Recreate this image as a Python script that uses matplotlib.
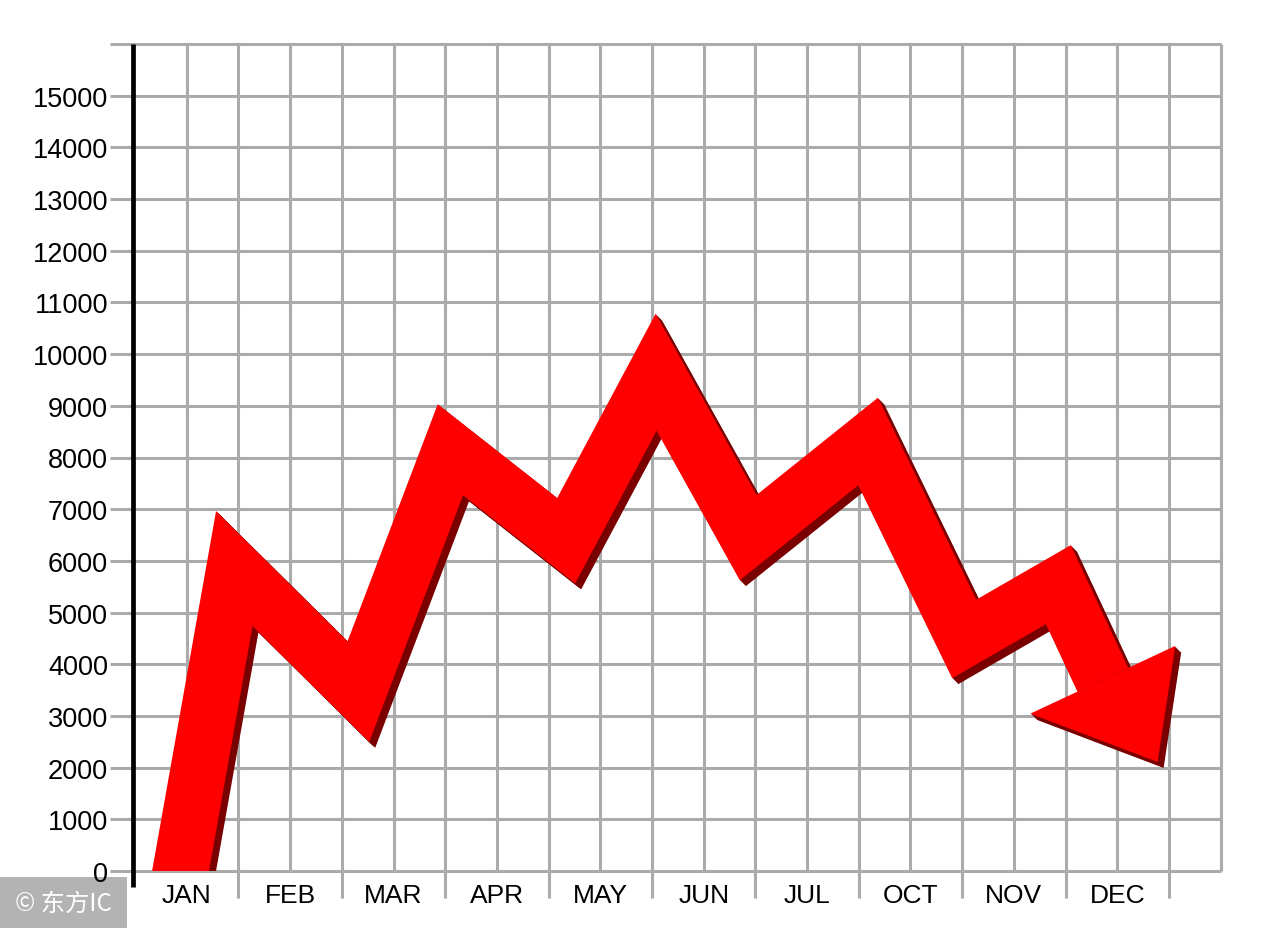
import matplotlib
matplotlib.use("Agg")
import matplotlib.pyplot as plt
import matplotlib.transforms as mtransforms
from matplotlib.patches import Polygon, Rectangle
import numpy as np

plt.rcParams['font.family'] = ['Liberation Sans', 'DejaVu Sans']

# ---------------- data ----------------
months = ['JAN', 'FEB', 'MAR', 'APR', 'MAY', 'JUN', 'JUL', 'OCT', 'NOV', 'DEC']
y_ticks = list(range(0, 16000, 1000))
# trend line vertices (x in month units, JAN = 0)
trend_x = [-0.06, 0.46, 1.66, 2.55, 3.67, 4.54, 5.43, 6.59, 7.52, 8.43, 8.86]
trend_y = [0, 5850, 3470, 8150, 6390, 9650, 6450, 8310, 4490, 5540, 3700]
arrow_tip_x = 9.39
arrow_tip_y = 2110

# ---------------- style ----------------
RED = '#ff0000'
SHADOW = '#7a0000'
GRID = '#ababab'
BAND_PX = 56          # band width in pixels
SHADOW_PX = 6         # extrusion depth
HEAD_HALF_PX = 80     # arrowhead half width

fig = plt.figure(figsize=(12.8, 9.29), dpi=100)
W, H = 1280, 929
ax = fig.add_axes([110 / W, (H - 872) / H, (1221.7 - 110) / W, (872 - 45) / H])
ax.set_xlim(-0.742, 10.01)
ax.set_ylim(0, 16000)
for s in ax.spines.values():
    s.set_visible(False)
ax.patch.set_alpha(0)

# grid
grid_lw = 2.2
ax.hlines(list(range(0, 17000, 1000)), -0.742, 10.0, colors=GRID, lw=grid_lw, zorder=1, clip_on=False)
month_pos = np.arange(len(months))
ax.vlines(month_pos, 0, 16000, colors=GRID, lw=grid_lw, zorder=1, clip_on=False)
sep_pos = month_pos + 0.5
ax.vlines(sep_pos, -520, 16000, colors=GRID, lw=grid_lw, zorder=1, clip_on=False)
ax.vlines([10.0], 0, 16000, colors=GRID, lw=grid_lw, zorder=1, clip_on=False)

# black axis
ax.vlines([-0.515], -310, 16000, colors='black', lw=3.4, zorder=5, clip_on=False)

# ticks
ax.set_yticks(y_ticks)
ax.set_yticklabels([str(v) for v in y_ticks], fontsize=19.5)
ax.set_xticks(month_pos)
ax.set_xticklabels(months, fontsize=19)
ax.tick_params(axis='both', length=0)
ax.tick_params(axis='y', pad=1.5)
ax.tick_params(axis='x', pad=8.5)

# ---------------- trend band ----------------
px = np.array(trend_x, dtype=float)
py = np.array(trend_y, dtype=float)
# extend first segment below zero so the band is cut flat by the axis
ext_x = px[0] - (px[1] - px[0]) * 0.3
ext_y = py[0] - (py[1] - py[0]) * 0.3
lx = np.concatenate([[ext_x], px])
ly = np.concatenate([[ext_y], py])

# arrowhead polygon computed in display space
tr = ax.transData
P = tr.transform((px[-1], py[-1]))
Q = tr.transform((px[-2], py[-2]))
d = (P - Q) / np.linalg.norm(P - Q)
n = np.array([d[1], -d[0]])
wing1 = P + n * HEAD_HALF_PX
wing2 = P - n * HEAD_HALF_PX
tip = tr.transform((arrow_tip_x, arrow_tip_y))
head_data = tr.inverted().transform(np.array([wing1, tip, wing2]))

lw_pt = BAND_PX * 72 / fig.dpi
for k in range(1, SHADOW_PX + 1):
    off = mtransforms.ScaledTranslation(k / fig.dpi, -k / fig.dpi, fig.dpi_scale_trans)
    ax.plot(lx, ly, color=SHADOW, lw=lw_pt, solid_joinstyle='miter', solid_capstyle='butt',
            transform=ax.transData + off, zorder=2)
    ax.add_patch(Polygon(head_data, closed=True, facecolor=SHADOW, edgecolor='none',
                         transform=ax.transData + off, zorder=2))
ax.plot(lx, ly, color=RED, lw=lw_pt, solid_joinstyle='miter', solid_capstyle='butt', zorder=3)
ax.add_patch(Polygon(head_data, closed=True, facecolor=RED, edgecolor='none', zorder=3))

# ---------------- watermark ----------------
fig.patches.append(Rectangle((0, 0), 127 / W, 51 / H, transform=fig.transFigure,
                             facecolor='#b3b3b3', edgecolor='none', zorder=-1))
fig.text(63 / W, (H - 904) / H, '© 东方IC', color='white', fontsize=17.5,
         family=['Noto Sans CJK SC', 'DejaVu Sans'], ha='center', va='center', zorder=11)

fig.savefig('out.png', dpi=100, facecolor='white')
